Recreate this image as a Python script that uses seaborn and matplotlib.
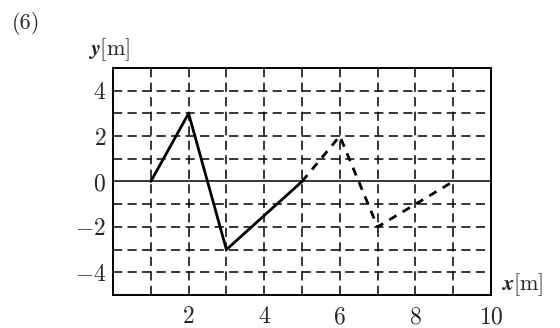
import numpy as np
import matplotlib
matplotlib.use('Agg')
import matplotlib.pyplot as plt
import seaborn as sns
import pandas as pd

# wave shape, solid part and dashed part
solid_x = [1, 2, 3, 5]
solid_y = [0, 3, -3, 0]
dash_x = [5, 6, 7, 9]
dash_y = [0, 2, -2, 0]

xticks = [2, 4, 6, 8, 10]
yticks = [-4, -2, 0, 2, 4]

sns.set_style('white')
plt.rcParams['font.family'] = ['cmr10', 'DejaVu Serif']
plt.rcParams['axes.formatter.use_mathtext'] = True
plt.rcParams['mathtext.fontset'] = 'cm'

fig = plt.figure(figsize=(5.6, 3.28), dpi=100)
ax = fig.add_axes([0.2018, 0.1006, 0.6750, 0.6921])

# grid at every unit
grid_ls = (0, (6, 3.5))
for gx in range(1, 10):
    ax.axvline(gx, color='black', lw=1.1, ls=grid_ls, zorder=1)
for gy in range(-4, 5):
    if gy == 0:
        ax.axhline(0, color='black', lw=1.1, zorder=1)
    else:
        ax.axhline(gy, color='black', lw=1.1, ls=grid_ls, zorder=1)

df1 = pd.DataFrame({'x': solid_x, 'y': solid_y})
df2 = pd.DataFrame({'x': dash_x, 'y': dash_y})
sns.lineplot(data=df1, x='x', y='y', sort=False, estimator=None, color='black', lw=2.0, ax=ax, zorder=3)
sns.lineplot(data=df2, x='x', y='y', sort=False, estimator=None, color='black', lw=2.0, ax=ax, zorder=3)
ax.lines[-1].set_linestyle((0, (3, 2.6)))

ax.set_xlim(0, 10)
ax.set_ylim(-5, 5)
ax.set_xticks(xticks)
ax.set_yticks(yticks)
ax.tick_params(length=0, labelsize=17)
ax.tick_params(axis='x', pad=8)
ax.tick_params(axis='y', pad=5)
ax.set_xlabel('')
ax.set_ylabel('')
for s in ax.spines.values():
    s.set_linewidth(1.4)
    s.set_color('black')

fig.text(0.021, 0.927, '(6)', fontsize=16, ha='left', va='center')
fig.text(0.158, 0.848, r'$\boldsymbol{y}$[m]', fontsize=16, ha='left', va='center')
fig.text(0.895, 0.133, r'$\boldsymbol{x}$[m]', fontsize=16, ha='left', va='center')

fig.savefig('out.png', dpi=100)
